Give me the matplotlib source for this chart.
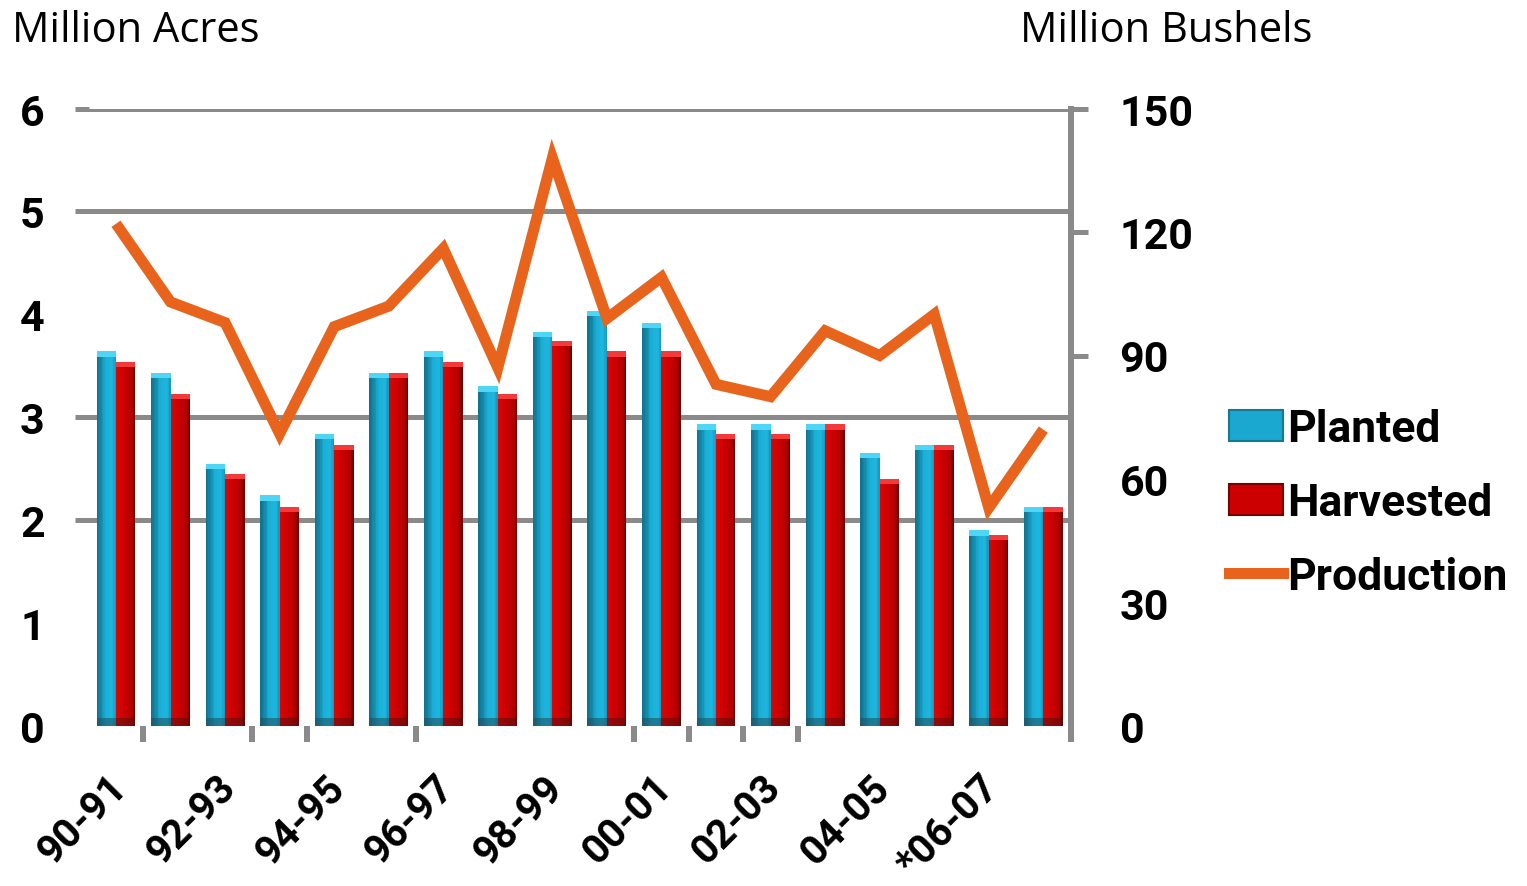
import numpy as np
import matplotlib
matplotlib.use("Agg")
import matplotlib.pyplot as plt
from matplotlib.patches import Patch
from matplotlib.lines import Line2D
from matplotlib.colors import to_rgb
import matplotlib.transforms as mtransforms

# ---------------- data ----------------
categories = ["90-91", "91-92", "92-93", "93-94", "94-95", "95-96", "96-97", "97-98",
              "98-99", "99-00", "00-01", "01-02", "02-03", "03-04", "04-05", "05-06",
              "*06-07", "*07-08"]
planted = [3.64, 3.43, 2.55, 2.24, 2.84, 3.43, 3.64, 3.30, 3.83, 4.03,
           3.92, 2.93, 2.93, 2.93, 2.65, 2.73, 1.90, 2.13]
harvested = [3.54, 3.23, 2.45, 2.13, 2.73, 3.43, 3.54, 3.23, 3.74, 3.64,
             3.64, 2.84, 2.84, 2.93, 2.40, 2.73, 1.86, 2.13]
production = [122, 103, 98, 71, 97, 102, 116, 87, 138, 99,
              109, 83, 80, 96, 90, 100, 53, 72]
acre_ticks = [0, 1, 2, 3, 4, 5, 6]
bushel_ticks = [0, 30, 60, 90, 120, 150]
series_names = ["Planted", "Harvested", "Production"]

# ---------------- style ----------------
W, H, DPI = 1527, 887, 100
GRAY = "#8a8a8a"
ORANGE = "#E8641C"
BOLD = ["Roboto", "DejaVu Sans"]
TITLE_FONT = ["Open Sans", "DejaVu Sans"]

def px(v):
    return v * 72.0 / DPI

fig = plt.figure(figsize=(W / DPI, H / DPI), dpi=DPI)
left, right = 88.7 / W, 1070.6 / W
bottom, top = 1 - 727 / H, 1 - 109.5 / H
ax = fig.add_axes([left, bottom, right - left, top - bottom])
ax2 = ax.twinx()

n = len(categories)
xs = np.arange(n)
bw = 0.357


def interp(stops, f):
    for (p0, c0), (p1, c1) in zip(stops[:-1], stops[1:]):
        if p0 <= f <= p1:
            t = (f - p0) / (p1 - p0) if p1 > p0 else 0
            a, b = np.array(to_rgb(c0)), np.array(to_rgb(c1))
            return tuple(a + (b - a) * t)
    return to_rgb(stops[-1][1])


def gradient_bars(xc, heights, stops, cap_color, base_color, nstrips=14):
    heights = np.asarray(heights)
    sw = bw / nstrips
    for k in range(nstrips):
        col = interp(stops, (k + 0.5) / nstrips)
        extra = sw * 0.15 if k < nstrips - 1 else 0
        ax.bar(xc - bw / 2 + k * sw, heights, width=sw + extra, align="edge",
               color=col, linewidth=0, zorder=2)
    cap = 0.05
    ax.bar(xc, np.full(n, cap), bottom=heights - cap, width=bw, color=cap_color,
           linewidth=0, zorder=3)
    ax.bar(xc, np.full(n, 0.075), bottom=0, width=bw, color=base_color,
           linewidth=0, zorder=3, alpha=0.55)


planted_stops = [(0.0, "#0f6f8c"), (0.3, "#1690b2"), (0.45, "#1aaed6"),
                 (0.8, "#1fb6df"), (1.0, "#1794b8")]
harvest_stops = [(0.0, "#d80606"), (0.5, "#c80000"), (0.82, "#b00000"),
                 (1.0, "#600000")]

gradient_bars(xs - bw / 2, planted, planted_stops, "#4fd6f4", "#1d4f5e")
gradient_bars(xs + bw / 2, harvested, harvest_stops, "#f23a3a", "#5a1010")

# production line
ax2.plot(xs, production, color=ORANGE, linewidth=px(11), solid_joinstyle="miter",
         solid_capstyle="butt", zorder=5)

# ---------------- axes ----------------
ax.set_xlim(-0.5, n - 0.5)
ax.set_ylim(0, 6)
ax2.set_ylim(0, 150)

for s in ["top", "bottom", "left", "right"]:
    ax.spines[s].set_visible(False)
    ax2.spines[s].set_visible(False)
ax2.spines["right"].set_visible(True)
ax2.spines["right"].set_color(GRAY)
ax2.spines["right"].set_linewidth(px(6))

ax.yaxis.remove_overlapping_locs = False
ax2.yaxis.remove_overlapping_locs = False

# left axis
ax.set_yticks(acre_ticks)
ax.set_yticklabels([str(t) for t in acre_ticks], fontsize=31, fontweight="bold",
                   family=BOLD)
ax.tick_params(axis="y", which="major", length=0, pad=px(44))
ax.set_yticks([2, 3, 5, 6], minor=True)
ax.tick_params(axis="y", which="minor", length=px(14), width=px(5), color=GRAY)
ax.yaxis.grid(True, which="minor", color=GRAY, linewidth=px(5))
ax.yaxis.grid(False, which="major")
ax.set_axisbelow(True)

# right axis
ax2.set_yticks(bushel_ticks)
ax2.set_yticklabels([str(t) for t in bushel_ticks], fontsize=31, fontweight="bold",
                    family=BOLD)
ax2.tick_params(axis="y", which="major", length=0, pad=px(49))
ax2.set_yticks([90, 120, 150], minor=True)
ax2.tick_params(axis="y", which="minor", length=px(17), width=px(5), color=GRAY)

# bottom axis
shown = list(range(0, n, 2))
ax.set_xticks(shown)
ax.set_xticklabels([categories[i] for i in shown], fontsize=29, fontweight="bold",
                   family=BOLD, rotation=45, ha="right", va="top",
                   rotation_mode="anchor")
ax.tick_params(axis="x", which="major", length=0, pad=0)
ax.set_xticks([0.5, 2.5, 3.5, 5.5, 9.5, 10.5, 11.5, 12.5, 17.5], minor=True)
ax.tick_params(axis="x", which="minor", length=px(16), width=px(6), color=GRAY,
               direction="out")
offset = mtransforms.ScaledTranslation(-9 / DPI, -42 / DPI, fig.dpi_scale_trans)
for lab in ax.get_xticklabels():
    lab.set_transform(lab.get_transform() + offset)

# titles
fig.text(12 / W, 1 - 42 / H, "Million Acres", fontsize=30, family=TITLE_FONT,
         ha="left", va="baseline")
fig.text(1020 / W, 1 - 42 / H, "Million Bushels", fontsize=30, family=TITLE_FONT,
         ha="left", va="baseline")

# legend
handles = [Patch(facecolor="#1aa8d0", edgecolor="#137a96", linewidth=1.5),
           Patch(facecolor="#cc0000", edgecolor="#7a0000", linewidth=1.5),
           Line2D([0], [0], color=ORANGE, linewidth=px(11))]
leg = fig.legend(handles, series_names, loc="upper left",
                 bbox_to_anchor=(1229 / W, 1 - 409 / H), frameon=False,
                 prop={"family": BOLD, "weight": "bold", "size": 32},
                 handlelength=1.22, handleheight=0.7, handletextpad=0.08,
                 labelspacing=0.72, borderpad=0, borderaxespad=0)

fig.savefig("out.png", dpi=DPI)
